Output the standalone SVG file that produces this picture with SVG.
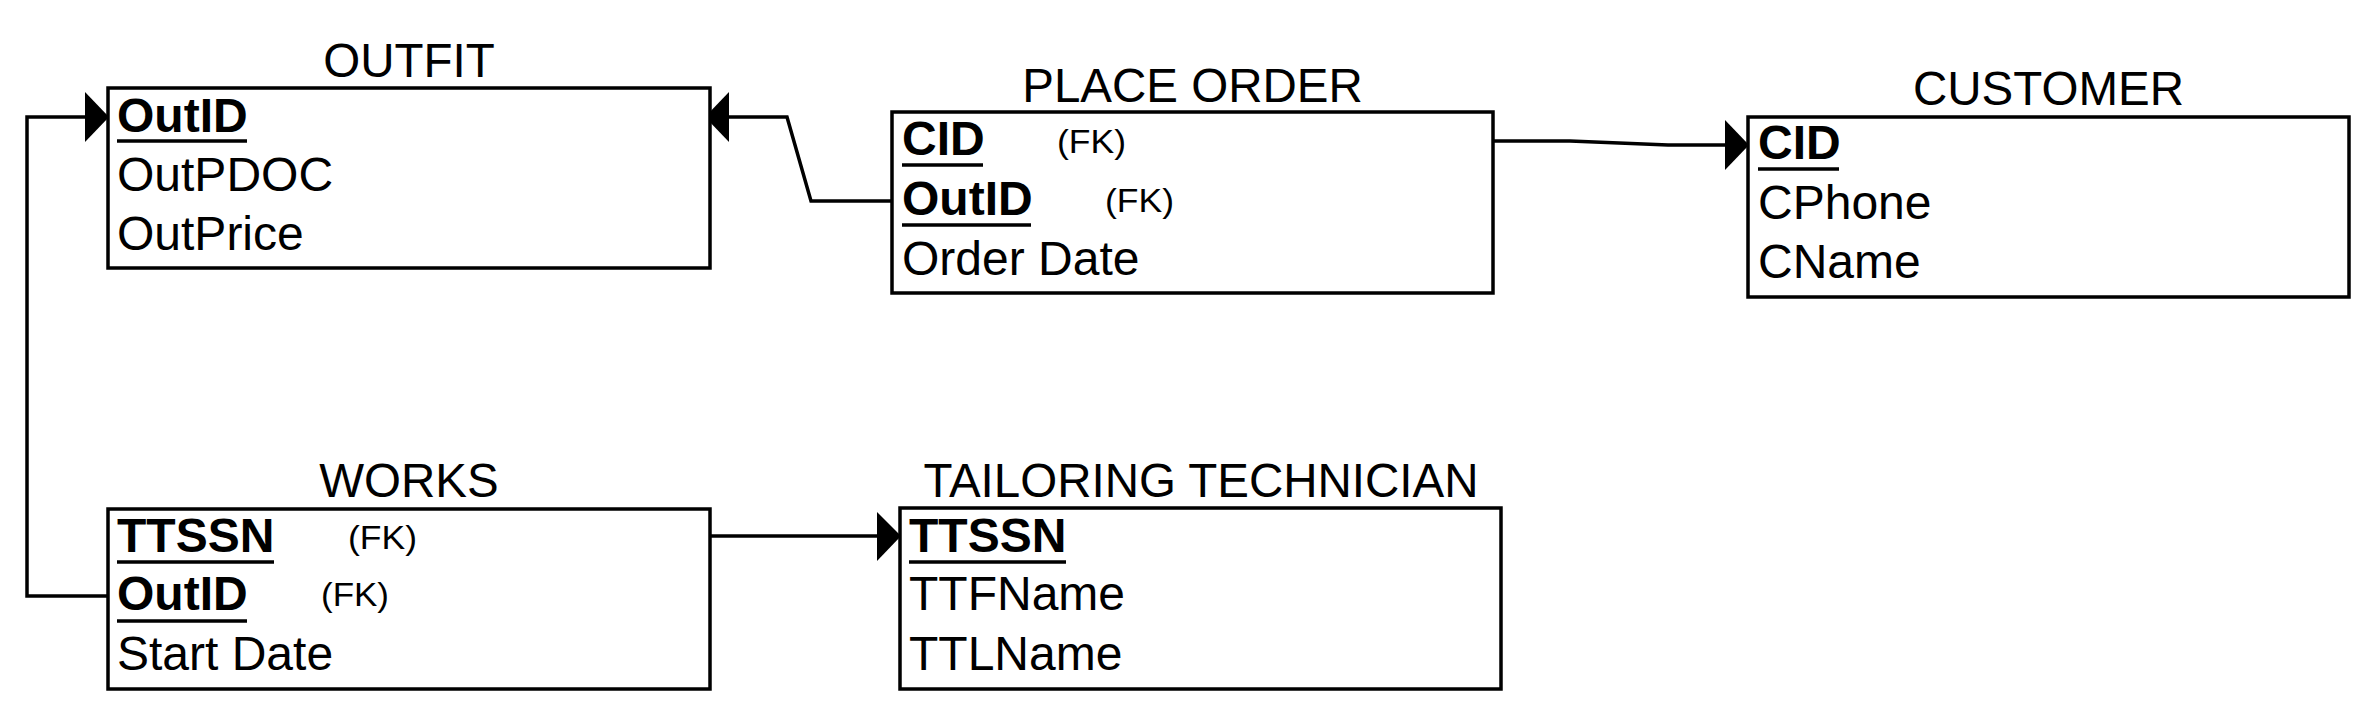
<svg xmlns="http://www.w3.org/2000/svg" width="2376" height="716" viewBox="0 0 2376 716">
<style>
text{font-family:"Liberation Sans",Arial,sans-serif;fill:#000}
.title{font-size:47.5px;text-anchor:middle}
.attr{font-size:48px}
.pk{font-size:48px;font-weight:bold}
.fk{font-size:33px}
.box{fill:#fff;stroke:#000;stroke-width:3.5}
.ul{stroke:#000;stroke-width:3.5}
.conn{fill:none;stroke:#000;stroke-width:3.5;stroke-linejoin:miter}
.head{fill:#000}
</style>
<rect width="2376" height="716" fill="#fff"/>

<g id="connectors">
<path class="conn" d="M108,596 H27 V117 H90"/>
<polygon class="head" points="85,92 109,117 85,142"/>
<path class="conn" d="M892,201 H811 L787,117 H725"/>
<polygon class="head" points="729,92 705,117 729,142"/>
<path class="conn" d="M1493,141 H1570 L1668,145 H1730"/>
<polygon class="head" points="1725,120 1749,145 1725,170"/>
<path class="conn" d="M710,536 H882"/>
<polygon class="head" points="877,512 901,536 877,561"/>
</g>

<g id="outfit">
<text class="title" x="409" y="77">OUTFIT</text>
<rect class="box" x="108" y="88" width="602" height="180"/>
<text class="pk" x="117" y="132">OutID</text>
<line class="ul" x1="117" y1="141" x2="247" y2="141"/>
<text class="attr" x="117" y="191">OutPDOC</text>
<text class="attr" x="117" y="250">OutPrice</text>
</g>

<g id="place-order">
<text class="title" x="1192.5" y="102">PLACE ORDER</text>
<rect class="box" x="892" y="112" width="601" height="181"/>
<text class="pk" x="902" y="155">CID</text>
<line class="ul" x1="902" y1="165" x2="983" y2="165"/>
<text class="fk" x="1057" y="153" textLength="69" lengthAdjust="spacingAndGlyphs">(FK)</text>
<text class="pk" x="902" y="215">OutID</text>
<line class="ul" x1="902" y1="225" x2="1031" y2="225"/>
<text class="fk" x="1105" y="212" textLength="69" lengthAdjust="spacingAndGlyphs">(FK)</text>
<text class="attr" x="902" y="275">Order Date</text>
</g>

<g id="customer">
<text class="title" x="2048.5" y="105">CUSTOMER</text>
<rect class="box" x="1748" y="117" width="601" height="180"/>
<text class="pk" x="1758" y="159">CID</text>
<line class="ul" x1="1758" y1="169" x2="1839" y2="169"/>
<text class="attr" x="1758" y="219">CPhone</text>
<text class="attr" x="1758" y="278">CName</text>
</g>

<g id="works">
<text class="title" x="409" y="497">WORKS</text>
<rect class="box" x="108" y="509" width="602" height="180"/>
<text class="pk" x="117" y="552">TTSSN</text>
<line class="ul" x1="117" y1="562" x2="274" y2="562"/>
<text class="fk" x="348" y="549" textLength="69" lengthAdjust="spacingAndGlyphs">(FK)</text>
<text class="pk" x="117" y="610">OutID</text>
<line class="ul" x1="117" y1="621" x2="247" y2="621"/>
<text class="fk" x="321" y="606" textLength="68" lengthAdjust="spacingAndGlyphs">(FK)</text>
<text class="attr" x="117" y="670">Start Date</text>
</g>

<g id="tailoring-technician">
<text class="title" x="1201" y="497">TAILORING TECHNICIAN</text>
<rect class="box" x="900" y="508" width="601" height="181"/>
<text class="pk" x="909" y="552">TTSSN</text>
<line class="ul" x1="909" y1="562" x2="1066" y2="562"/>
<text class="attr" x="909" y="610">TTFName</text>
<text class="attr" x="909" y="670">TTLName</text>
</g>
</svg>
